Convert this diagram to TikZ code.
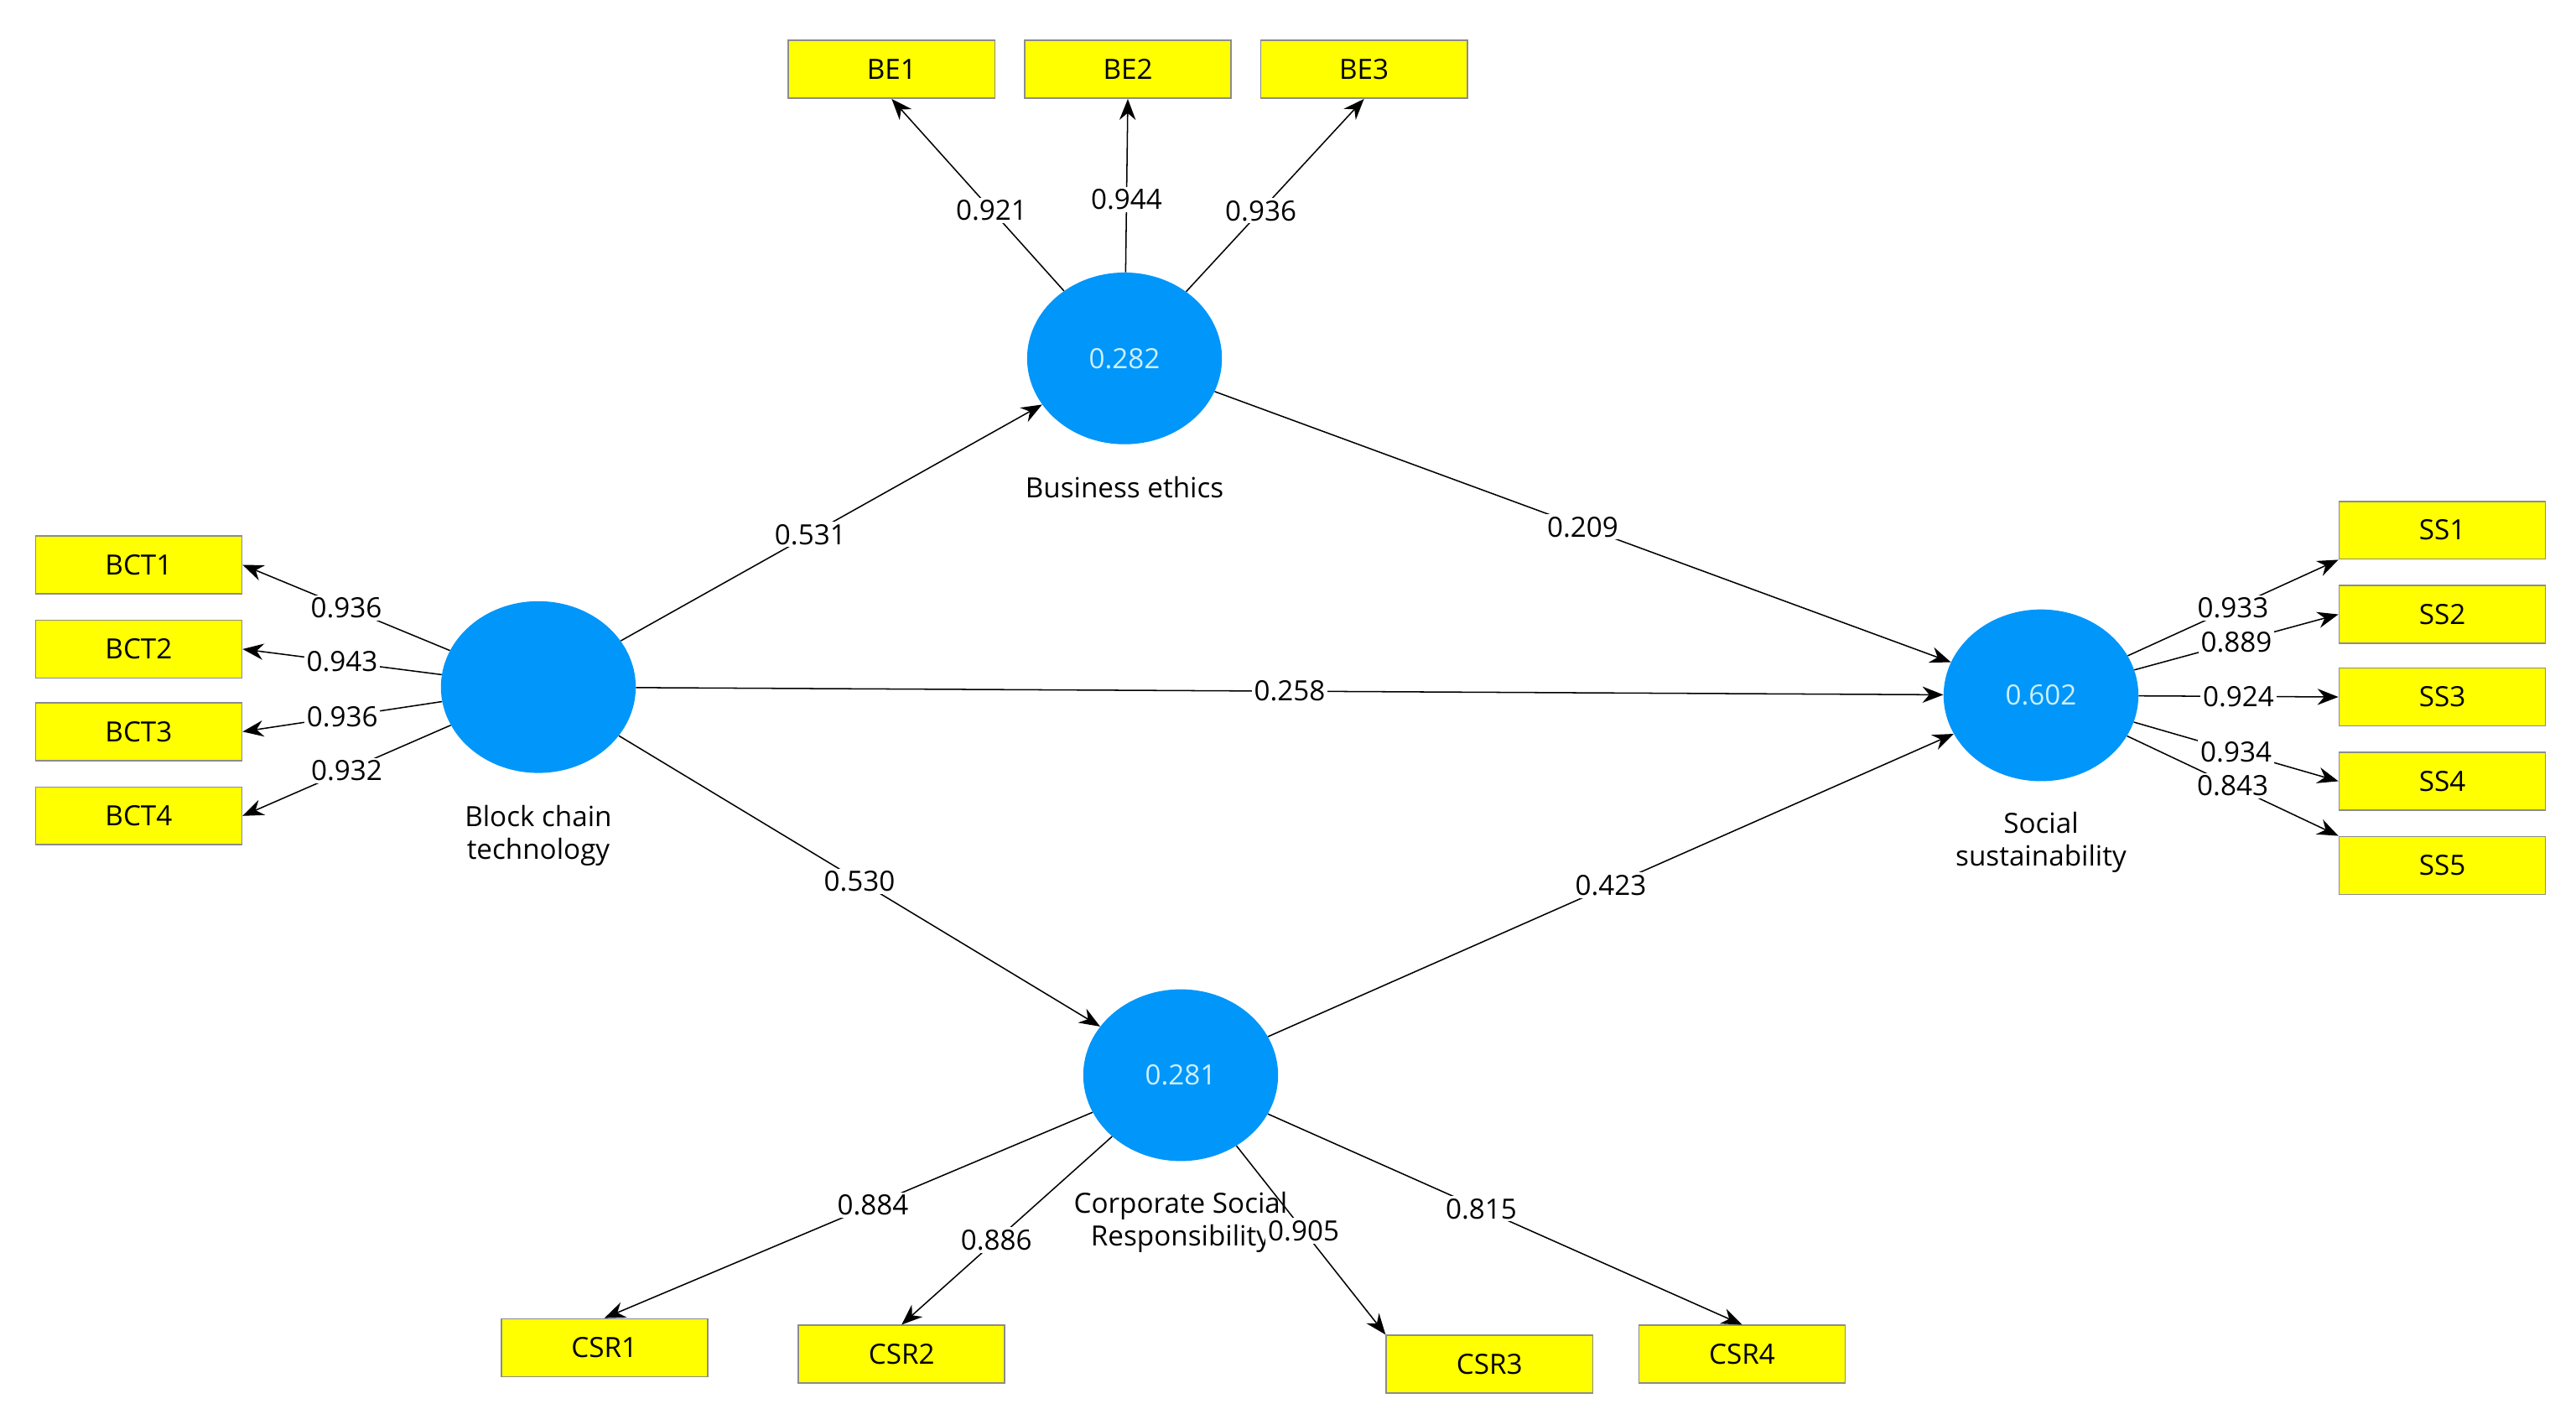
\documentclass[tikz,border=0pt]{standalone}
\usepackage{fontspec}
\setmainfont{Open Sans}
\usetikzlibrary{arrows.meta,shapes.geometric}
\definecolor{lv}{RGB}{0,150,250}
\definecolor{yb}{RGB}{255,255,0}
\begin{document}
\begin{tikzpicture}[x=0.05cm,y=-0.05cm,
 font=\fontsize{24}{30}\selectfont,
 ind/.style={draw=black!45,line width=1.2pt,fill=yb,minimum width=6.25cm,minimum height=1.75cm,inner sep=0pt},
 lat/.style={ellipse,fill=lv,minimum width=5.9cm,minimum height=5.2cm,inner sep=0pt,text=cyan!20},
 arr/.style={line width=1.1pt,-{Stealth[length=18pt,width=14pt]}},
 lab/.style={fill=white,inner sep=2pt,font=\fontsize{24}{30}\selectfont},
 lvcap/.style={align=center,font=\fontsize{24}{28}\selectfont}]
\useasboundingbox (0,0) rectangle (1560,853);
\node[lat] (be) at (681,217) {0.282};
\node[lat] (bct) at (326,416) {};
\node[lat] (ss) at (1236,421) {0.602};
\node[lat] (csr) at (715,651) {0.281};
\node[lvcap] (tbe) at (681,295) {Business ethics};
\node[lvcap] (tbct) at (326,506) {Block chain\\technology};
\node[lvcap] (tss) at (1236,510) {Social\\sustainability};
\node[lvcap] (tcsr) at (715,740) {Corporate Social\\Responsibility};
\foreach \n/\x/\y in {BE1/540/42,BE2/683/42,BE3/826/42,BCT1/84/342,BCT2/84/393,BCT3/84/443,BCT4/84/494,SS1/1479/321,SS2/1479/372,SS3/1479/422,SS4/1479/473,SS5/1479/524,CSR1/366/816,CSR2/546/820,CSR3/902/826,CSR4/1055/820}
  \node[ind] (\n) at (\x,\y) {\n};
% structural
\draw[arr] (bct) -- node[lab,pos=0.45]{0.531} (be);
\draw[arr] (be) -- node[lab,pos=0.5]{0.209} (ss);
\draw[arr] (bct) -- node[lab,pos=0.5]{0.258} (ss);
\draw[arr] (bct) -- node[lab,pos=0.5]{0.530} (csr);
\draw[arr] (csr) -- node[lab,pos=0.5]{0.423} (ss);
% outer
\draw[arr] (be) -- node[lab,pos=0.42]{0.921} (BE1.south);
\draw[arr] (be) -- node[lab,pos=0.42]{0.944} (BE2.south);
\draw[arr] (be) -- node[lab,pos=0.42]{0.936} (BE3.south);
\draw[arr] (bct) -- node[lab,pos=0.5]{0.936} (BCT1.east);
\draw[arr] (bct) -- node[lab,pos=0.5]{0.943} (BCT2.east);
\draw[arr] (bct) -- node[lab,pos=0.5]{0.936} (BCT3.east);
\draw[arr] (bct) -- node[lab,pos=0.5]{0.932} (BCT4.east);
\draw[arr] (ss) -- node[lab,pos=0.5]{0.933} (SS1.south west);
\draw[arr] (ss) -- node[lab,pos=0.5]{0.889} (SS2.west);
\draw[arr] (ss) -- node[lab,pos=0.5]{0.924} (SS3.west);
\draw[arr] (ss) -- node[lab,pos=0.5]{0.934} (SS4.west);
\draw[arr] (ss) -- node[lab,pos=0.5]{0.843} (SS5.north west);
\draw[arr] (csr) -- node[lab,pos=0.45]{0.884} (CSR1.north);
\draw[arr] (csr) -- node[lab,pos=0.55]{0.886} (CSR2.north);
\draw[arr] (csr) -- node[lab,pos=0.45]{0.905} (CSR3.north west);
\draw[arr] (csr) -- node[lab,pos=0.45]{0.815} (CSR4.north);
\end{tikzpicture}
\end{document}
